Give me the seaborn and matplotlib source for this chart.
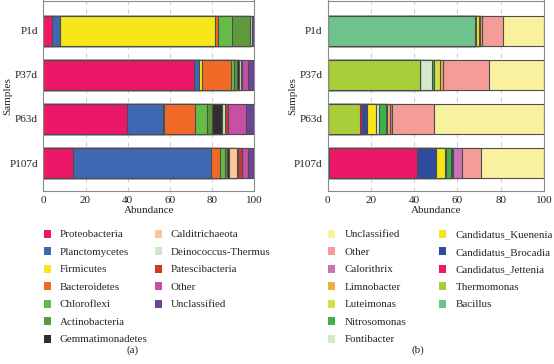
import numpy as np
import pandas as pd
import matplotlib
matplotlib.use("Agg")
import matplotlib.pyplot as plt
import seaborn as sns
from matplotlib.patches import Patch

samples = ["P1d", "P37d", "P63d", "P107d"]

# ---------- (a) phylum level (stack order) ----------
phyla = ["Proteobacteria", "Planctomycetes", "Firmicutes", "Bacteroidetes",
         "Chloroflexi", "Actinobacteria", "Gemmatimonadetes", "Calditrichaeota",
         "Deinococcus-Thermus", "Patescibacteria", "Other", "Unclassified"]
proteobacteria = [4.0, 71.6, 39.8, 14.2]
planctomycetes = [4.0, 2.4, 16.9, 65.1]
firmicutes = [73.5, 1.0, 0.5, 0.0]
bacteroidetes = [1.5, 13.8, 14.8, 4.4]
chloroflexi = [6.5, 1.4, 5.7, 2.6]
actinobacteria = [8.4, 1.5, 2.2, 0.6]
gemmatimonadetes = [0.2, 1.0, 5.0, 0.9]
calditrichaeota = [0.0, 0.0, 0.0, 3.8]
deinococcus_thermus = [0.6, 0.8, 1.2, 0.5]
patescibacteria = [0.1, 0.5, 1.5, 2.0]
other_a = [0.3, 3.0, 8.3, 3.1]
unclassified_a = [0.9, 3.0, 4.1, 2.8]
colors_a = ["#EC1766", "#3E68B2", "#F6E61A", "#F06A26", "#66BD45", "#5E9A3C",
            "#2F2F2F", "#FBC698", "#CFE6C8", "#CC3A2E", "#C74FA4", "#6E4495"]

# ---------- (b) genus level (stack order) ----------
genera = ["Bacillus", "Thermomonas", "Candidatus_Jettenia", "Candidatus_Brocadia",
          "Candidatus_Kuenenia", "Fontibacter", "Nitrosomonas", "Luteimonas",
          "Limnobacter", "Calorithrix", "Other", "Unclassified"]
bacillus = [68.1, 0.0, 0.0, 0.0]
thermomonas = [0.0, 42.7, 14.9, 0.5]
candidatus_jettenia = [0.0, 0.0, 0.9, 40.9]
candidatus_brocadia = [0.4, 0.0, 2.4, 8.5]
candidatus_kuenenia = [1.3, 0.0, 4.1, 4.3]
fontibacter = [0.0, 5.7, 1.5, 0.3]
nitrosomonas = [0.3, 0.6, 3.0, 2.5]
luteimonas = [0.3, 2.9, 0.8, 0.4]
limnobacter = [0.9, 1.2, 1.2, 0.7]
calorithrix = [0.2, 0.4, 1.1, 4.2]
other_b = [9.4, 21.2, 19.4, 8.7]
unclassified_b = [19.1, 25.3, 50.7, 29.0]
colors_b = ["#6DC38B", "#A8CE3A", "#EC1766", "#2F4C9E", "#F6E61A", "#D3E9C9",
            "#3BB34A", "#D5DF4B", "#EDAE47", "#C874B4", "#F59C99", "#F8F19E"]

series_a = [proteobacteria, planctomycetes, firmicutes, bacteroidetes, chloroflexi,
            actinobacteria, gemmatimonadetes, calditrichaeota, deinococcus_thermus,
            patescibacteria, other_a, unclassified_a]
series_b = [bacillus, thermomonas, candidatus_jettenia, candidatus_brocadia,
            candidatus_kuenenia, fontibacter, nitrosomonas, luteimonas, limnobacter,
            calorithrix, other_b, unclassified_b]

sns.set_style("white")
plt.rcParams["font.family"] = ["Liberation Serif", "DejaVu Serif"]
FS = 8.0
LFS = 7.9

W, H = 554, 364
fig = plt.figure(figsize=(W / 100, H / 100), dpi=100)


def fx(px):
    return px / W


def fy(py):
    return 1 - py / H


ax_a = fig.add_axes([fx(43.3), fy(191), fx(254.3 - 43.3), (191 - 0.5) / H])
ax_b = fig.add_axes([fx(327.7), fy(191), fx(544 - 327.7), (191 - 0.5) / H])


def stacked(ax, names, series, colors, ylabel_x):
    df = pd.DataFrame({n: s for n, s in zip(names, series)}, index=samples)
    cum = df.cumsum(axis=1)
    for gx in [20, 40, 60, 80]:
        ax.axvline(gx, color="#D0D0D0", lw=0.8, ls=(0, (4, 4)), zorder=0)
    for name, col in reversed(list(zip(names, colors))):
        d = pd.DataFrame({"Samples": samples, "Abundance": cum[name].values})
        sns.barplot(data=d, x="Abundance", y="Samples", order=samples, orient="h",
                    color=col, width=0.68, edgecolor="#4D4D4D", linewidth=0.8,
                    saturation=1, ax=ax, zorder=2)
    ax.set_xlim(0, 100)
    ax.set_ylim(3.63, -0.68)
    ax.set_xticks([0, 20, 40, 60, 80, 100])
    ax.tick_params(axis="both", labelsize=FS, length=2.0, color="#777777",
                   colors="#222222", pad=1.8)
    ax.set_xlabel("Abundance", fontsize=FS, labelpad=0.5)
    ax.set_ylabel("Samples", fontsize=FS)
    ax.yaxis.set_label_coords(ylabel_x, fy(96), transform=fig.transFigure)
    for sp in ax.spines.values():
        sp.set_color("#8A8A8A")
        sp.set_linewidth(0.8)
        sp.set_visible(True)
    ax.set_axisbelow(True)


stacked(ax_a, phyla, series_a, colors_a, fx(12))
stacked(ax_b, genera, series_b, colors_b, fx(297))


def legend_col(names, colors, xpx, ypx):
    handles = [Patch(facecolor=c, edgecolor="none") for c in colors]
    lg = fig.legend(handles, names, loc="upper left",
                    bbox_to_anchor=(fx(xpx), fy(ypx)), bbox_transform=fig.transFigure,
                    frameon=False, fontsize=LFS, handlelength=0.65, handleheight=0.75,
                    handletextpad=0.85, labelspacing=0.7, borderpad=0, borderaxespad=0)
    return lg


legend_col(phyla[:7], colors_a[:7], 43.5, 229.5)
legend_col(phyla[7:], colors_a[7:], 154.5, 229.5)

rev_names = genera[::-1]
rev_colors = colors_b[::-1]
legend_col(rev_names[:7], rev_colors[:7], 328, 229.5)
legend_col(rev_names[7:], rev_colors[7:], 439, 229.5)

fig.text(fx(133), fy(350), "(a)", fontsize=FS, ha="center", va="center")
fig.text(fx(418), fy(350), "(b)", fontsize=FS, ha="center", va="center")

fig.savefig("out.png", dpi=100)
